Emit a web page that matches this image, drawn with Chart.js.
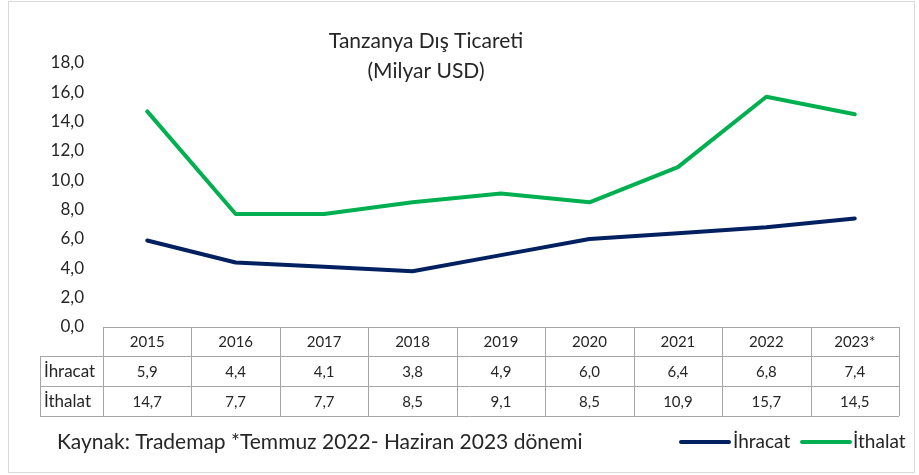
<!DOCTYPE html>
<html>
<head>
<meta charset="utf-8">
<script src="https://cdn.jsdelivr.net/npm/chart.js@4"></script>
<style>
html,body{margin:0;padding:0;background:#fff;}
#wrap{position:relative;width:919px;height:475px;}
</style>
</head>
<body>
<div id="wrap"><canvas id="c" width="919" height="475"></canvas></div>
<script>
const categories = ['2015','2016','2017','2018','2019','2020','2021','2022','2023*'];
const ihracat = [5.9, 4.4, 4.1, 3.8, 4.9, 6.0, 6.4, 6.8, 7.4];
const ithalat = [14.7, 7.7, 7.7, 8.5, 9.1, 8.5, 10.9, 15.7, 14.5];
const seriesNames = ['İhracat', 'İthalat'];
const colors = ['#002060', '#00B050'];
const titleLines = ['Tanzanya Dış Ticareti', '(Milyar USD)'];
const sourceText = 'Kaynak: Trademap *Temmuz 2022- Haziran 2023 dönemi';
const FONT = 'Lato, "Open Sans", sans-serif';
const TXT = '#262626';

const fmt = v => v.toFixed(1).replace('.', ',');

const extras = {
  id: 'extras',
  afterDraw(chart) {
    const ctx = chart.ctx;
    const ca = chart.chartArea;
    const x = chart.scales.x;
    ctx.save();
    // outer border
    ctx.strokeStyle = '#d9d9d9';
    ctx.lineWidth = 1;
    ctx.strokeRect(8.5, 1.5, 906, 471);
    // title
    ctx.fillStyle = TXT;
    ctx.font = '21px ' + FONT;
    ctx.textAlign = 'center';
    ctx.textBaseline = 'middle';
    ctx.fillText(titleLines[0], 426, 41);
    ctx.fillText(titleLines[1], 426, 71);
    // table
    const rowY = [Math.round(ca.bottom), 356, 386, 416];
    const labelLeft = 40;
    const colW = (ca.right - ca.left) / categories.length;
    ctx.strokeStyle = '#a6a6a6';
    ctx.lineWidth = 1;
    ctx.beginPath();
    ctx.moveTo(ca.left, rowY[0] + 0.5); ctx.lineTo(ca.right, rowY[0] + 0.5);
    for (let i = 1; i < rowY.length; i++) {
      ctx.moveTo(labelLeft, rowY[i] + 0.5); ctx.lineTo(ca.right, rowY[i] + 0.5);
    }
    ctx.moveTo(labelLeft + 0.5, rowY[1]); ctx.lineTo(labelLeft + 0.5, rowY[3]);
    for (let i = 0; i <= categories.length; i++) {
      const xx = Math.round(ca.left + i * colW) + 0.5;
      ctx.moveTo(xx, rowY[0]); ctx.lineTo(xx, rowY[3]);
    }
    ctx.stroke();
    ctx.fillStyle = TXT;
    ctx.font = '15px ' + FONT;
    ctx.textBaseline = 'middle';
    ctx.textAlign = 'center';
    const rows = [ihracat, ithalat];
    categories.forEach((c, i) => {
      const cx = x.getPixelForValue(i);
      ctx.fillText(c, cx, (rowY[0] + rowY[1]) / 2 + 1);
      rows.forEach((r, j) => ctx.fillText(fmt(r[i]), cx, (rowY[j + 1] + rowY[j + 2]) / 2 + 1));
    });
    ctx.textAlign = 'left';
    ctx.font = '17px ' + FONT;
    seriesNames.forEach((n, j) => ctx.fillText(n, 44, (rowY[j + 1] + rowY[j + 2]) / 2 + 1));
    // source
    ctx.font = '21px ' + FONT;
    ctx.fillText(sourceText, 57, 442);
    // legend
    const leg = [[681, 729, 733], [802, 850, 853]];
    ctx.font = '19px ' + FONT;
    ctx.lineCap = 'round';
    ctx.lineWidth = 4;
    leg.forEach((l, j) => {
      ctx.strokeStyle = colors[j];
      ctx.beginPath(); ctx.moveTo(l[0], 442); ctx.lineTo(l[1], 442); ctx.stroke();
      ctx.fillText(seriesNames[j], l[2], 442);
    });
    ctx.restore();
  }
};

new Chart(document.getElementById('c'), {
  type: 'line',
  data: {
    labels: categories,
    datasets: [
      { label: seriesNames[0], data: ihracat, borderColor: colors[0], backgroundColor: colors[0] },
      { label: seriesNames[1], data: ithalat, borderColor: colors[1], backgroundColor: colors[1] }
    ]
  },
  options: {
    responsive: false,
    animation: false,
    layout: { padding: { top: 63, bottom: 148, left: 0, right: 20 } },
    elements: {
      line: { borderWidth: 4, tension: 0, borderCapStyle: 'round', borderJoinStyle: 'round' },
      point: { radius: 0, hoverRadius: 0 }
    },
    plugins: { legend: { display: false }, title: { display: false }, tooltip: { enabled: false } },
    scales: {
      x: { display: false, offset: true },
      y: {
        min: 0, max: 18,
        afterFit(s) { s.width = 103; },
        border: { display: false },
        grid: { display: false, drawTicks: false },
        ticks: {
          stepSize: 2, padding: 19, color: TXT,
          font: { family: FONT, size: 17 },
          callback: v => fmt(v)
        }
      }
    }
  },
  plugins: [extras]
});
</script>
</body>
</html>
